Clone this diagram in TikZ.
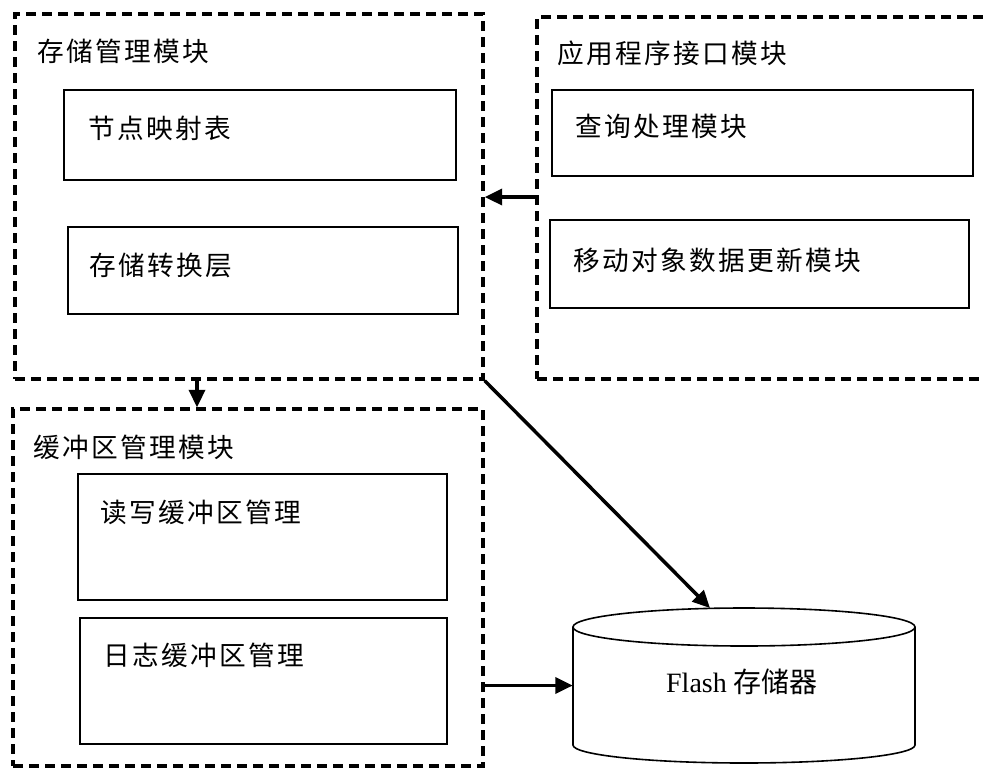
\documentclass[tikz,border=0pt]{standalone}
\usepackage{fontspec}
\setmainfont{Liberation Serif}
\newfontfamily\cjk[LetterSpace=9]{Noto Sans CJK SC}
\newfontfamily\cjkplain{Noto Sans CJK SC}
\usetikzlibrary{arrows.meta,fit}
\begin{document}
\begin{tikzpicture}[x=0.75pt,y=-0.75pt,
  container/.style={draw,line width=2.6pt,dash pattern=on 7.5pt off 4.5pt,inner sep=0pt},
  inbox/.style={draw,line width=1.2pt,inner sep=0pt},
  lbl/.style={anchor=west,inner sep=0pt,font=\cjk\fontsize{20pt}{24pt}\selectfont},
  conn/.style={line width=2.6pt,-{Triangle[length=13pt,width=12pt]}},
  cyl/.style={line width=1.2pt,fill=white}
]
\useasboundingbox (0,0) rectangle (983,769);
\clip (0,0) rectangle (983,769);

% containers
\node[container,fit={(15,14) (483,379)}] (stor) {};
\node[container,fit={(537,17) (995,379)}] (api) {};
\node[container,fit={(13,409) (483,766)}] (buf) {};

% inner boxes
\node[inbox,fit={(64,90) (456,180)}] (map) {};
\node[inbox,fit={(68,227) (458,314)}] (conv) {};
\node[inbox,fit={(552,90) (973,176)}] (query) {};
\node[inbox,fit={(550,220) (969,308)}] (update) {};
\node[inbox,fit={(78,474) (447,600)}] (rwbuf) {};
\node[inbox,fit={(80,618) (447,744)}] (logbuf) {};

% titles and labels
\node[lbl] (t-stor) at (37,51) {存储管理模块};
\node[lbl] (t-api) at (557,53) {应用程序接口模块};
\node[lbl] (t-buf) at (33,447) {缓冲区管理模块};
\node[lbl] (l-map) at (88,128) {节点映射表};
\node[lbl] (l-conv) at (89,265) {存储转换层};
\node[lbl] (l-query) at (575,126) {查询处理模块};
\node[lbl] (l-update) at (573,260) {移动对象数据更新模块};
\node[lbl] (l-rw) at (100,512) {读写缓冲区管理};
\node[lbl] (l-log) at (103,655) {日志缓冲区管理};

% cylinder (Flash storage)
\draw[cyl] (573,627) -- (573,745) arc[start angle=180,end angle=0,x radius=171,y radius=18] -- (915,627);
\draw[cyl] (744,627) ellipse [x radius=171, y radius=19];
\node[inner sep=0pt,fit={(573,608) (915,763)}] (flash) {};
\node[inner sep=0pt,font=\fontsize{21pt}{25pt}\selectfont] (l-flash) at (742,682) {Flash {\cjkplain 存储器}};

% helper coordinates
\coordinate (yapi) at (0,197);
\coordinate (xbuf) at (197,0);
\coordinate (fltop) at (710,608);

% connectors
\draw[conn] (api.west |- yapi) -- (stor.east |- yapi);
\draw[conn] (stor.south -| xbuf) -- (buf.north -| xbuf);
\draw[conn] (stor.south east) -- (fltop);
\draw[conn] (buf.east |- flash.center) -- (flash.west);
\end{tikzpicture}
\end{document}
